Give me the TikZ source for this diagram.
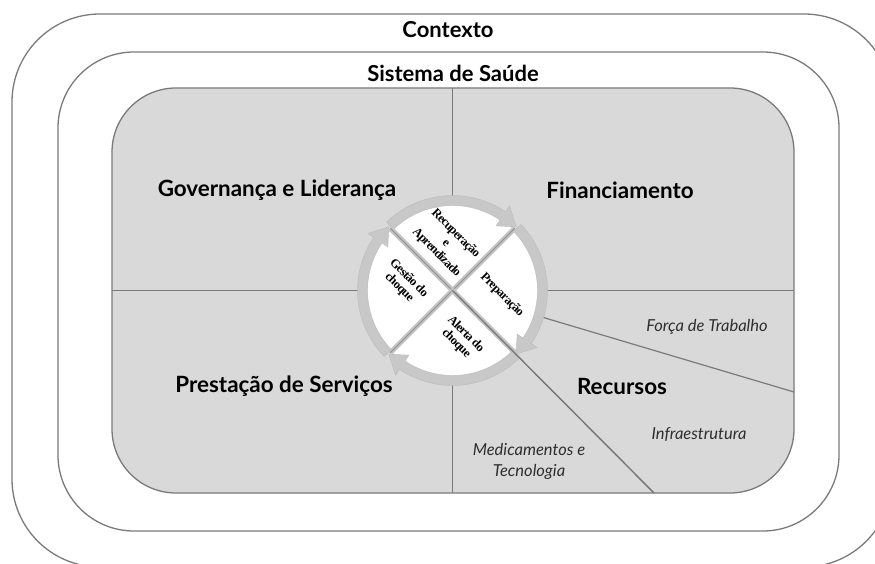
\documentclass[tikz,border=0pt]{standalone}
\usepackage{fontspec}
\setmainfont{Lato}
\newfontfamily\circfont[LetterSpace=-5]{Liberation Serif}
\definecolor{linegray}{HTML}{7A7A7A}
\definecolor{panel}{HTML}{D9D9D9}
\definecolor{ringgray}{HTML}{C8C8C8}
\definecolor{ringedge}{HTML}{BBBBBB}
\definecolor{sepgray}{HTML}{C4C4C4}
\definecolor{subtext}{HTML}{2E2E2E}
\begin{document}
\begin{tikzpicture}[x=1pt,y=-1pt,
  frame/.style={draw=linegray, line width=1.3pt},
  region/.style={draw=linegray, line width=1.2pt},
  title/.style={font=\fontsize{22}{26}\selectfont\bfseries, text=black},
  big/.style={font=\fontsize{22.4}{26}\selectfont\bfseries, text=black},
  sub/.style={font=\fontsize{16.5}{21}\selectfont\itshape, text=subtext, align=center},
  phase/.style={font=\circfont\bfseries\fontsize{12.5}{13.5}\selectfont, rotate=-45, align=center, inner sep=0pt, text=black},
  ringarrow/.style={fill=ringgray, draw=ringedge, line width=0.4pt},
  sepband/.style={draw=sepgray, line width=5pt},
  sepline/.style={draw=linegray!85, line width=0.8pt}]
\useasboundingbox (0,0) rectangle (875,564);
\clip (0,0) rectangle (875,564);
% frames
\draw[frame, rounded corners=88pt] (12,14) rectangle (892,567);
\draw[frame, rounded corners=76pt] (58,52) rectangle (839,531);
\draw[frame, fill=panel, rounded corners=64pt] (112,88) rectangle (794,493);
% coordinates
\coordinate (ctr) at (452.5,290.5);
\coordinate (vtop) at (452.5,88);
\coordinate (vbot) at (452.5,493);
\coordinate (hleft) at (112,290.5);
\coordinate (hright) at (794,290.5);
\coordinate (rad) at (794,392);
\coordinate (diag) at (654,493);
% region lines
\draw[region] (vtop) -- (vbot);
\draw[region] (hleft) -- (hright);
\draw[region] (ctr) -- (rad);
\draw[region] (ctr) -- (diag);
% cycle disk
\begin{scope}[shift={(ctr)}, yscale=-1]
  \fill[white] (0,0) circle[radius=86];
  \foreach \c in {90,0,-90,180}{
    \draw[ringarrow] (\c+44:95) arc[start angle=\c+44, end angle=\c-34, radius=95]
      -- (\c-34:102) -- (\c-45:90) -- (\c-34:78) -- (\c-34:85)
      arc[start angle=\c-34, end angle=\c+44, radius=85] -- cycle;
  }
  \foreach \a in {45,135,225,-45}{
    \draw[sepband] (0,0) -- (\a:88);
    \draw[sepline] (0,0) -- (\a:88);
  }
\end{scope}
\draw[region] (ctr) -- (diag);
% labels
\node[title] (ctx) at (448,30) {Contexto};
\node[title] (sis) at (453,73) {Sistema de Saúde};
\node[big] (gov) at (277,190) {Governança e Liderança};
\node[big] (fin) at (620,190) {Financiamento};
\node[big] (pre) at (284,386) {Prestação de Serviços};
\node[big] (rec) at (622,386) {Recursos};
\node[sub] (ft) at (707,327) {Força de Trabalho};
\node[sub] (inf) at (699,435) {Infraestrutura};
\node[sub] (med) at (529,461) {Medicamentos e\\Tecnologia};
% phases
\node[phase] (p1) at (446,243) {Recuperação\\e\\Aprendizado};
\node[phase] (p2) at (502,295) {Preparação};
\node[phase] (p3) at (461,339) {Alerta do\\choque};
\node[phase] (p4) at (404,283) {Gestão do\\choque};
\end{tikzpicture}
\end{document}
